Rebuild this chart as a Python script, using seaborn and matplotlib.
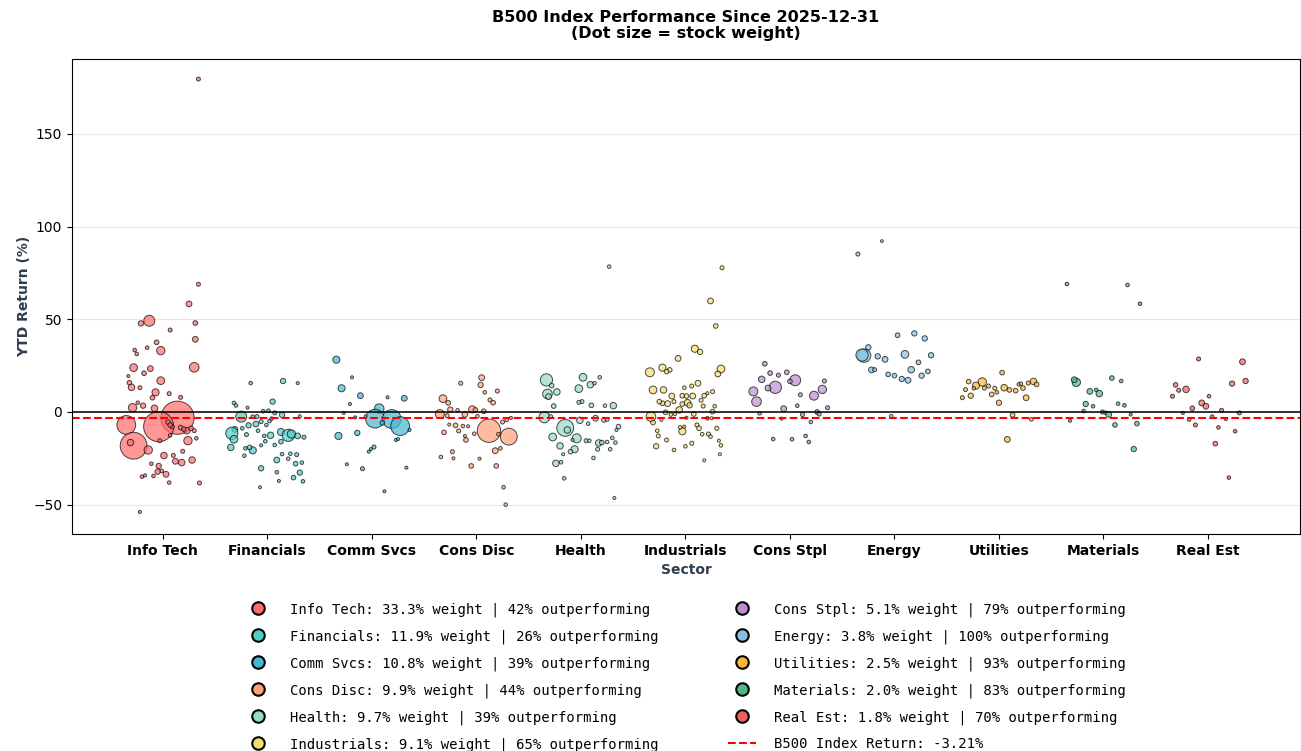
import pandas as pd
import matplotlib
matplotlib.use('Agg')
import matplotlib.pyplot as plt
from matplotlib.lines import Line2D
import seaborn as sns

# --- Sector summary (legend) ---
sectors = ['Info Tech', 'Financials', 'Comm Svcs', 'Cons Disc', 'Health', 'Industrials',
           'Cons Stpl', 'Energy', 'Utilities', 'Materials', 'Real Est']
sector_colors = ['#FF6B6B', '#4ECDC4', '#45B7D1', '#FFA07A', '#98D8C8', '#F7DC6F',
                 '#BB8FCE', '#85C1E2', '#F8B739', '#52B788', '#F06060']
sector_weight = [33.3, 11.9, 10.8, 9.9, 9.7, 9.1, 5.1, 3.8, 2.5, 2.0, 1.8]
sector_outperf = [42, 26, 39, 44, 39, 65, 79, 100, 93, 83, 70]
index_return = -3.21

# --- Stocks per sector: jitter (x offset), YTD return (%), weight (%) ---
it_jitter = [0.34, 0.34, 0.25, -0.13, -0.21, 0.31, 0.07, 0.31, -0.06, -0.15, -0.27, -0.25, -0.02, 0.30,
             -0.28, -0.12, -0.18, -0.33, -0.02, -0.32, -0.30, -0.22, -0.07, 0.06, -0.10, 0.17, -0.24,
             -0.19, -0.29, -0.08, 0.14, -0.35, -0.04, -0.28, -0.31, 0.05, 0.09, 0.07, 0.17, 0.23, 0.20,
             0.27, 0.30, 0.07, 0.24, 0.32, -0.14, -0.03, 0.01, 0.19, 0.10, 0.12, 0.18, 0.28, -0.11,
             -0.04, -0.05, 0.03, -0.09, -0.20, -0.17, -0.01, 0.06, 0.35, -0.22]
it_ret = [179.6, 68.9, 58.3, 49.2, 47.8, 48.0, 44.2, 39.2, 37.6, 34.7, 33.4, 31.3, 33.1, 24.1,
          23.9, 23.4, 20.9, 19.4, 16.9, 15.8, 13.3, 13.1, 10.6, 9.9, 7.7, 7.9, 5.0,
          3.4, 2.3, 2.0, -3.1, -7.0, -7.9, -18.2, -16.5, -5.5, -8.0, -7.0, -8.4, -10.1, -9.2,
          -8.8, -10.1, -12.6, -15.5, -14.2, -20.5, -15.5, -23.5, -21.2, -23.4, -26.6, -27.3, -25.9, -27.9,
          -29.1, -32.2, -33.6, -34.5, -34.9, -34.2, -31.8, -38.1, -38.3, -53.9]
it_wt = [0.06, 0.06, 0.16, 0.66, 0.13, 0.09, 0.06, 0.16, 0.09, 0.04, 0.04, 0.04, 0.37, 0.50,
         0.31, 0.16, 0.09, 0.02, 0.31, 0.09, 0.21, 0.06, 0.26, 0.06, 0.09, 0.06, 0.04,
         0.13, 0.37, 0.21, 6.3, 2.0, 5.2, 4.1, 0.21, 0.09, 0.06, 0.09, 0.09, 0.21, 0.09,
         0.09, 0.06, 0.04, 0.37, 0.04, 0.37, 0.06, 0.21, 0.06, 0.06, 0.16, 0.21, 0.21, 0.04,
         0.13, 0.13, 0.16, 0.04, 0.04, 0.02, 0.04, 0.04, 0.06, 0.02]

fin_jitter = [-0.16, 0.15, 0.29, 0.05, -0.32, -0.30, -0.19, -0.04, 0.01, 0.07, 0.14, 0.31, -0.25, -0.14,
              -0.10, -0.11, -0.06, -0.01, 0.02, 0.04, -0.18, -0.31, -0.34, -0.32, -0.35, -0.24, -0.20,
              -0.09, -0.03, 0.03, 0.13, 0.20, 0.23, 0.29, 0.35, 0.13, 0.07, -0.02, -0.06, -0.21, -0.14,
              -0.17, -0.22, 0.09, 0.14, 0.22, 0.28, 0.20, 0.33, 0.27, -0.06, 0.09, 0.31, 0.25, 0.34,
              0.11, -0.07]
fin_ret = [15.6, 16.7, 15.6, 5.6, 4.9, 3.5, 2.3, 0.4, 0.7, -0.5, -1.6, -2.3, -2.5, -2.5,
           -2.5, -6.5, -5.2, -7.0, -4.9, -3.6, -7.2, -9.4, -11.5, -14.7, -19.1, -8.8, -12.2,
           -10.1, -12.9, -12.6, -10.8, -12.6, -11.9, -12.9, -13.6, -16.0, -17.8, -15.8, -18.0, -19.6, -20.7,
           -19.1, -23.6, -25.9, -22.7, -22.5, -23.0, -25.2, -27.3, -27.9, -30.4, -32.5, -32.7, -35.4, -37.4,
           -37.2, -40.6]
fin_wt = [0.04, 0.13, 0.02, 0.13, 0.04, 0.04, 0.02, 0.04, 0.04, 0.06, 0.13, 0.02, 0.66, 0.04,
          0.06, 0.16, 0.06, 0.04, 0.04, 0.04, 0.13, 0.16, 0.83, 0.31, 0.21, 0.04, 0.06,
          0.04, 0.04, 0.21, 0.26, 0.83, 0.37, 0.16, 0.06, 0.09, 0.04, 0.04, 0.02, 0.04, 0.26,
          0.09, 0.04, 0.16, 0.04, 0.04, 0.06, 0.04, 0.04, 0.09, 0.13, 0.04, 0.13, 0.09, 0.04,
          0.02, 0.02]

cs_jitter = [-0.34, -0.19, -0.29, -0.11, -0.21, 0.15, 0.31, 0.07, -0.27, -0.16, 0.03, 0.19, 0.27, 0.10,
             -0.06, -0.32, -0.14, 0.23, 0.25, 0.02, -0.01, -0.03, -0.24, -0.09, 0.33, 0.12, 0.36]
cs_ret = [28.2, 18.7, 12.8, 8.8, 4.3, 7.9, 7.4, 1.8, -0.5, -2.9, -3.6, -3.8, -7.6, -5.9,
          -2.3, -12.9, -11.3, -15.1, -14.6, -18.9, -20.0, -21.4, -28.2, -30.6, -30.0, -42.8, -9.7]
cs_wt = [0.26, 0.02, 0.26, 0.16, 0.02, 0.02, 0.16, 0.50, 0.02, 0.02, 2.0, 2.0, 2.0, 0.09,
         0.02, 0.26, 0.13, 0.02, 0.02, 0.06, 0.02, 0.02, 0.02, 0.06, 0.02, 0.02, 0.02]

cd_jitter = [0.05, 0.04, -0.15, 0.20, 0.08, -0.32, -0.27, 0.13, 0.16, -0.25, -0.18, -0.04, -0.01, 0.07,
             -0.35, -0.28, -0.11, 0.01, 0.12, 0.31, 0.25, 0.29, 0.33, -0.20, -0.26, -0.13, -0.08,
             -0.31, -0.17, -0.02, -0.11, -0.10, 0.21, 0.18, 0.23, -0.23, -0.34, -0.22, 0.03, -0.05,
             0.19, 0.26, 0.28]
cd_ret = [18.5, 14.6, 15.5, 11.3, 10.6, 7.2, 4.9, 6.5, 5.0, 1.3, 0.9, 1.4, 1.1, 0.4,
          -1.1, -2.0, -1.3, -2.3, -10.1, -13.3, -5.4, -4.3, -3.2, -7.2, -6.8, -7.6, -7.7,
          -11.0, -10.2, -11.7, -12.9, -15.1, -12.0, -20.9, -19.6, -21.4, -24.3, -25.0, -25.2, -29.1,
          -29.1, -40.6, -50.0]
cd_wt = [0.16, 0.13, 0.06, 0.06, 0.04, 0.31, 0.09, 0.06, 0.09, 0.13, 0.04, 0.26, 0.09, 0.09,
         0.43, 0.06, 0.16, 0.04, 3.1, 1.6, 0.06, 0.04, 0.02, 0.09, 0.02, 0.04, 0.02,
         0.09, 0.06, 0.04, 0.02, 0.09, 0.04, 0.16, 0.04, 0.06, 0.04, 0.02, 0.02, 0.09,
         0.09, 0.04, 0.04]

hc_jitter = [0.27, -0.33, 0.02, 0.18, -0.28, 0.09, 0.13, -0.02, -0.23, -0.32, -0.31, 0.01, -0.02, 0.10,
             0.23, 0.31, -0.26, -0.35, -0.29, 0.14, 0.22, 0.25, -0.01, 0.07, 0.36, 0.34, -0.15,
             -0.13, -0.04, -0.27, -0.08, 0.05, 0.08, 0.17, 0.20, 0.25, 0.30, 0.33, -0.20, 0.16,
             -0.06, -0.10, 0.28, -0.24, -0.19, -0.17, 0.12, -0.16, 0.32]
hc_ret = [78.4, 17.3, 18.7, 18.7, 14.2, 14.7, 15.5, 12.6, 10.8, 9.7, 8.3, 5.6, 5.2, 3.6,
          3.4, 3.4, 3.2, -2.9, -2.5, -3.4, -4.3, -4.0, -4.5, -6.3, -7.9, -9.7, -8.6,
          -9.7, -14.2, -13.5, -15.1, -15.5, -15.5, -16.7, -16.5, -16.2, -14.0, -16.5, -18.3, -20.1,
          -20.1, -21.4, -20.1, -27.7, -27.1, -22.8, -24.8, -35.8, -46.4]
hc_wt = [0.04, 0.83, 0.31, 0.04, 0.09, 0.21, 0.04, 0.31, 0.21, 0.50, 0.16, 0.06, 0.06, 0.09,
         0.04, 0.21, 0.09, 0.66, 0.06, 0.16, 0.09, 0.06, 0.21, 0.04, 0.09, 0.02, 1.6,
         0.21, 0.43, 0.31, 0.02, 0.06, 0.04, 0.21, 0.09, 0.04, 0.04, 0.04, 0.21, 0.06,
         0.26, 0.09, 0.04, 0.21, 0.04, 0.02, 0.04, 0.04, 0.02]

ind_jitter = [0.35, 0.24, 0.29, 0.09, 0.14, -0.07, 0.34, 0.31, -0.34, -0.22, -0.15, -0.18, -0.31, -0.21,
              0.12, 0.06, -0.01, 0.26, -0.13, -0.03, 0.01, 0.07, 0.18, 0.21, -0.22, -0.25, -0.17,
              -0.11, -0.03, 0.02, 0.04, 0.15, 0.17, 0.28, -0.06, -0.19, -0.14, 0.08, 0.26, -0.33,
              -0.31, -0.23, -0.10, 0.01, 0.21, 0.25, -0.03, -0.05, -0.01, -0.27, -0.26, 0.11, 0.13,
              0.16, 0.22, 0.24, 0.30, -0.18, 0.06, 0.00, -0.11, -0.28, 0.32, 0.34, 0.18, 0.33]
ind_ret = [77.8, 59.9, 46.4, 34.1, 32.4, 28.9, 23.2, 20.5, 21.4, 23.9, 22.7, 21.8, 11.9, 11.9,
           15.5, 14.0, 13.1, 11.0, 8.6, 8.8, 8.6, 8.6, 8.8, 10.1, 4.7, 5.6, 4.5,
           5.6, 4.3, 5.0, 3.6, 6.3, 3.2, 3.1, 1.1, -0.2, -1.4, -1.1, 0.2, -2.5,
           -5.7, -4.3, -1.1, -3.1, -3.4, -3.4, -10.4, -8.3, -7.9, -10.1, -12.9, -7.0, -8.8,
           -12.0, -11.9, -13.3, -8.8, -15.1, -16.9, -18.5, -20.5, -18.5, -15.5, -18.0, -26.1, -22.8]
ind_wt = [0.06, 0.16, 0.09, 0.26, 0.13, 0.16, 0.31, 0.16, 0.43, 0.26, 0.09, 0.09, 0.31, 0.21,
          0.16, 0.06, 0.04, 0.06, 0.16, 0.09, 0.09, 0.16, 0.09, 0.02, 0.09, 0.09, 0.16,
          0.06, 0.09, 0.21, 0.13, 0.06, 0.06, 0.04, 0.21, 0.09, 0.04, 0.09, 0.09, 0.50,
          0.09, 0.02, 0.02, 0.02, 0.04, 0.02, 0.26, 0.04, 0.02, 0.04, 0.06, 0.06, 0.09,
          0.04, 0.06, 0.04, 0.06, 0.06, 0.06, 0.04, 0.04, 0.13, 0.02, 0.04, 0.02, 0.02]

stp_jitter = [-0.24, -0.19, -0.03, -0.11, -0.27, 0.05, 0.00, 0.33, -0.14, -0.21, 0.31, -0.35, 0.23, 0.10,
              -0.32, 0.07, 0.36, -0.06, -0.29, 0.12, 0.26, 0.28, -0.08, 0.20, -0.16, 0.02, 0.15, 0.18]
stp_ret = [26.0, 21.0, 21.4, 19.9, 17.6, 17.1, 16.5, 16.7, 13.3, 12.9, 12.2, 11.1, 8.8, 9.3,
           5.6, 3.4, 2.3, 1.8, -0.7, -1.4, 0.0, -1.1, -3.6, -5.4, -14.6, -14.7, -12.9, -16.2]
stp_wt = [0.09, 0.09, 0.09, 0.06, 0.21, 0.66, 0.09, 0.06, 0.83, 0.16, 0.37, 0.43, 0.43, 0.06,
          0.50, 0.04, 0.06, 0.16, 0.04, 0.06, 0.09, 0.06, 0.02, 0.04, 0.04, 0.04, 0.04, 0.04]

en_jitter = [-0.12, -0.35, 0.03, 0.19, 0.29, -0.25, -0.29, -0.31, -0.16, -0.09, 0.10, 0.35, 0.23, -0.22,
             -0.19, 0.16, 0.32, -0.06, 0.00, 0.07, 0.13, 0.26, -0.03]
en_ret = [92.2, 85.2, 41.4, 42.4, 39.7, 34.9, 30.4, 30.7, 30.0, 28.4, 31.1, 30.6, 26.8, 22.7,
          22.8, 22.8, 21.9, 20.3, 19.6, 17.8, 17.1, 19.6, -2.3]
en_wt = [0.01, 0.06, 0.09, 0.13, 0.13, 0.13, 1.0, 0.83, 0.13, 0.16, 0.31, 0.13, 0.09, 0.16,
         0.06, 0.21, 0.09, 0.09, 0.09, 0.13, 0.16, 0.13, 0.04]

ut_jitter = [0.03, -0.29, -0.16, -0.22, -0.32, -0.24, -0.14, -0.10, -0.04, 0.05, 0.10, 0.16, 0.19, 0.21,
             0.23, 0.28, 0.33, 0.36, -0.02, -0.07, -0.27, -0.35, 0.26, 0.00, 0.13, 0.31, 0.08]
ut_ret = [21.2, 16.4, 16.2, 14.2, 12.1, 12.8, 12.9, 14.0, 12.8, 13.1, 11.9, 11.5, 14.9, 15.3,
          12.9, 15.6, 16.5, 14.9, 10.6, 9.5, 8.8, 7.7, 7.7, 5.0, -1.6, -4.0, -14.8]
ut_wt = [0.09, 0.09, 0.37, 0.26, 0.06, 0.04, 0.06, 0.06, 0.06, 0.21, 0.09, 0.09, 0.04, 0.04,
         0.09, 0.06, 0.21, 0.09, 0.04, 0.09, 0.13, 0.06, 0.16, 0.13, 0.09, 0.04, 0.16]

mat_jitter = [-0.35, 0.23, 0.35, -0.26, -0.28, 0.08, 0.17, -0.13, -0.07, -0.04, -0.17, -0.10, 0.14, 0.20,
              -0.19, -0.01, 0.02, 0.05, 0.26, -0.32, 0.11, 0.32, 0.29]
mat_ret = [69.0, 68.5, 58.4, 16.0, 17.4, 18.3, 16.7, 11.1, 11.9, 9.9, 4.3, 3.1, 4.5, 3.6,
           0.5, 0.0, -0.4, -1.3, -1.4, -4.7, -7.0, -6.3, -20.0]
mat_wt = [0.04, 0.04, 0.04, 0.37, 0.16, 0.09, 0.04, 0.16, 0.04, 0.21, 0.13, 0.04, 0.04, 0.04,
          0.04, 0.06, 0.04, 0.16, 0.02, 0.02, 0.09, 0.09, 0.13]

re_jitter = [-0.09, 0.33, 0.36, 0.23, -0.31, -0.21, -0.28, -0.34, 0.01, -0.06, -0.02, -0.15, 0.13, -0.24,
             0.30, 0.04, -0.18, 0.17, -0.12, 0.10, 0.26, 0.07, 0.20]
re_ret = [28.6, 27.1, 16.7, 15.3, 14.6, 12.2, 11.7, 8.5, 8.5, 4.9, 3.1, 2.0, 0.9, -0.5,
          -0.5, -2.5, -4.1, -3.8, -7.0, -8.3, -10.4, -17.1, -35.4]
re_wt = [0.06, 0.16, 0.13, 0.13, 0.09, 0.21, 0.06, 0.06, 0.04, 0.16, 0.16, 0.09, 0.06, 0.02,
         0.06, 0.04, 0.04, 0.02, 0.06, 0.04, 0.04, 0.09, 0.04]


def main():
    # --- Build the long table (one row per stock) ---
    jitters = [it_jitter, fin_jitter, cs_jitter, cd_jitter, hc_jitter, ind_jitter,
               stp_jitter, en_jitter, ut_jitter, mat_jitter, re_jitter]
    returns = [it_ret, fin_ret, cs_ret, cd_ret, hc_ret, ind_ret,
               stp_ret, en_ret, ut_ret, mat_ret, re_ret]
    weights = [it_wt, fin_wt, cs_wt, cd_wt, hc_wt, ind_wt,
               stp_wt, en_wt, ut_wt, mat_wt, re_wt]
    rows = []
    for i, name in enumerate(sectors):
        for dx, r, w in zip(jitters[i], returns[i], weights[i]):
            rows.append({'Sector': name, 'pos': i + dx, 'ret': r, 'weight': w})
    df = pd.DataFrame(rows)
    palette = dict(zip(sectors, sector_colors))

    # --- Figure ---
    fig = plt.figure(figsize=(13.01, 7.51), dpi=100)
    ax = fig.add_axes([0.0553, 0.289, 0.9439, 0.6324])

    sns.scatterplot(data=df, x='pos', y='ret', hue='Sector', palette=palette,
                    size='weight', sizes=(3, 903), size_norm=(0, 10),
                    alpha=0.7, edgecolor='black', linewidth=0.7, legend=False, ax=ax)

    ax.axhline(0, color='black', linewidth=1.3, alpha=0.85, zorder=1)
    ax.axhline(index_return, color='red', linestyle='--', linewidth=1.5, zorder=1)

    ax.set_xlim(-0.87, 10.88)
    ax.set_ylim(-65.8, 190.4)
    ax.set_yticks([-50, 0, 50, 100, 150])
    ax.set_xticks(range(len(sectors)))
    ax.set_xticklabels(sectors, fontsize=10, fontweight='bold')
    ax.tick_params(axis='y', labelsize=10)
    ax.grid(axis='y', alpha=0.3)
    ax.set_axisbelow(True)

    ax.set_xlabel('Sector', fontsize=10, fontweight='bold', color='#2C3E50')
    ax.set_ylabel('YTD Return (%)', fontsize=10, fontweight='bold', color='#2C3E50', labelpad=1.5)
    ax.set_title('B500 Index Performance Since 2025-12-31\n(Dot size = stock weight)',
                 fontsize=11.6, fontweight='bold', pad=15, linespacing=1.1)

    # --- Legend with sector summary ---
    handles = []
    for name, c, w, o in zip(sectors, sector_colors, sector_weight, sector_outperf):
        handles.append(Line2D([0], [0], marker='o', linestyle='None', markerfacecolor=c,
                              markeredgecolor='black', markeredgewidth=1.5, markersize=9,
                              label=f'{name}: {w:.1f}% weight | {o}% outperforming'))
    handles.append(Line2D([0], [0], color='red', linestyle='--', linewidth=1.5,
                          label=f'B500 Index Return: {index_return:.2f}%'))
    ax.legend(handles=handles, loc='upper center', bbox_to_anchor=(0.499, -0.1175), ncol=2,
              frameon=False, prop={'family': 'monospace', 'size': 10},
              handletextpad=1.3, columnspacing=5, labelspacing=0.9)

    fig.savefig('out.png', dpi=100)


if __name__ == "__main__":
    main()
